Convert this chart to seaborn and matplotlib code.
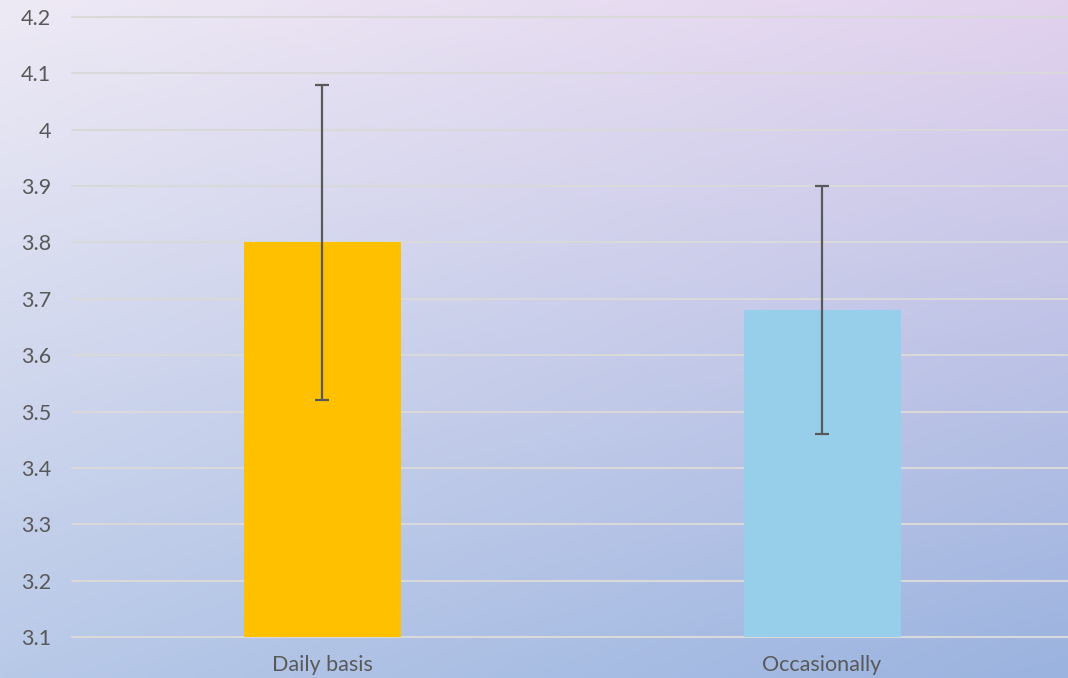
import numpy as np
import pandas as pd
import matplotlib
matplotlib.use("Agg")
import matplotlib.pyplot as plt
import seaborn as sns

# Data
categories = ["Daily basis", "Occasionally"]
means = [3.80, 3.68]
errors = [0.28, 0.22]
bar_colors = ["#FFC000", "#97CFEB"]
y_ticks = [3.1, 3.2, 3.3, 3.4, 3.5, 3.6, 3.7, 3.8, 3.9, 4.0, 4.1, 4.2]
y_tick_labels = ["3.1", "3.2", "3.3", "3.4", "3.5", "3.6", "3.7", "3.8", "3.9", "4", "4.1", "4.2"]

sns.set_style("white")
plt.rcParams["font.family"] = ["Lato", "DejaVu Sans"]

df = pd.DataFrame({"group": categories, "mean": means})

fig = plt.figure(figsize=(10.68, 6.78), dpi=100)

# gradient background across the whole figure (corner colours blended)
tl = np.array([0xEE, 0xEA, 0xF5]) / 255.0
tr = np.array([0xE2, 0xD2, 0xEE]) / 255.0
bl = np.array([0xB8, 0xC9, 0xE8]) / 255.0
br = np.array([0x9A, 0xB3, 0xDF]) / 255.0
u = np.linspace(0, 1, 200)[None, :, None]
v = np.linspace(0, 1, 130)[:, None, None]
grad = (1 - v) * ((1 - u) * tl + u * tr) + v * ((1 - u) * bl + u * br)

bg = fig.add_axes([0, 0, 1, 1], zorder=-10)
bg.imshow(grad, aspect="auto", interpolation="bilinear", extent=[0, 1, 0, 1])
bg.set_axis_off()

ax = fig.add_axes([72 / 1068, 41 / 678, 1000 / 1068, 620 / 678])
ax.patch.set_alpha(0)

sns.barplot(data=df, x="group", y="mean", hue="group", palette=bar_colors,
            width=0.314, saturation=1, linewidth=0, legend=False, ax=ax, zorder=2)
ax.errorbar(x=range(len(categories)), y=means, yerr=errors, fmt="none",
            ecolor="#595959", elinewidth=1.6, capsize=5, capthick=1.6, zorder=3)

ax.set_xlim(-0.5, 1.5)
ax.set_ylim(3.1, 4.2)
ax.set_yticks(y_ticks)
ax.set_yticklabels(y_tick_labels)
ax.yaxis.grid(True, color="#D9D9D9", linewidth=1.5, zorder=0)
ax.set_axisbelow(True)
for gl in ax.get_ygridlines():
    gl.set_clip_on(False)

ax.tick_params(axis="y", length=0, pad=15, labelsize=15.5, labelcolor="#595959")
ax.tick_params(axis="x", length=0, pad=13, labelsize=15.5, labelcolor="#595959")
ax.set_xlabel("")
ax.set_ylabel("")
sns.despine(ax=ax, left=True, bottom=True)

fig.savefig("out.png", dpi=100)
